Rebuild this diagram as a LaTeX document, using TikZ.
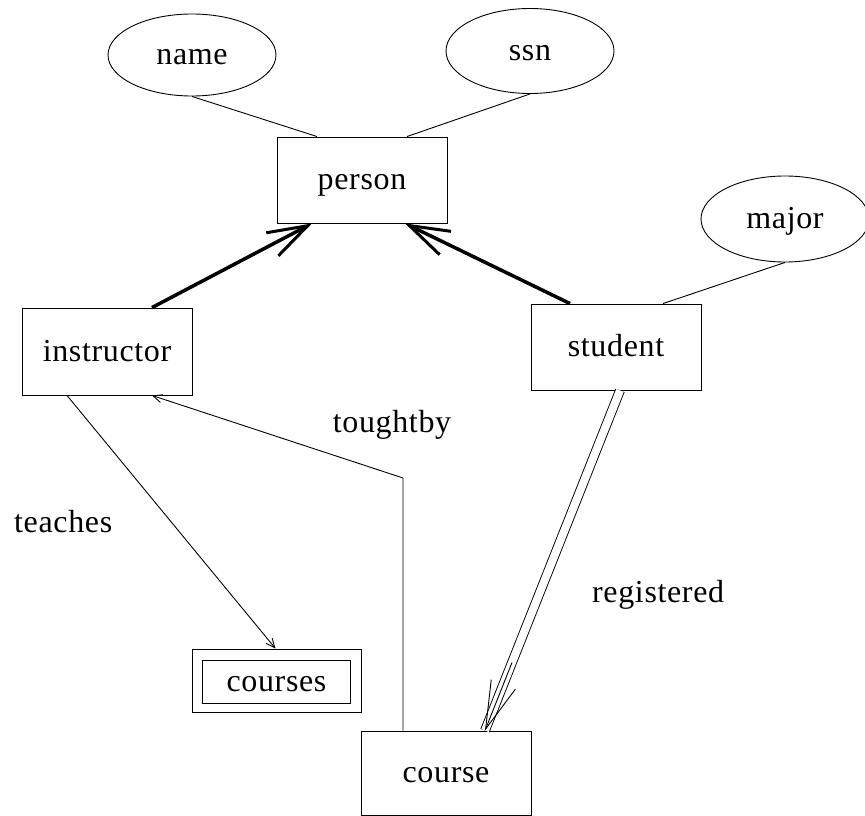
\documentclass[tikz,border=0pt]{standalone}
\usepackage{fontspec}
\setmainfont[LetterSpace=2]{Liberation Serif}
\usetikzlibrary{arrows.meta,shapes.geometric,calc}
\begin{document}
\begin{tikzpicture}[x=1pt,y=-1pt,
  font=\fontsize{32}{38}\selectfont,
  txt/.style={text height=25pt,text depth=6pt},
  entity/.style={draw,rectangle,inner sep=0pt,minimum width=170pt,minimum height=86pt,line width=0.9pt,txt},
  attr/.style={draw,ellipse,inner sep=0pt,minimum width=168pt,minimum height=82pt,line width=0.9pt,txt},
  lbl/.style={inner sep=0pt},
  thin/.style={line width=0.9pt},
  isa/.style={line width=3.5pt,-{Straight Barb[length=40pt,width=26pt,line width=3pt]}},
  rel/.style={line width=0.9pt,-{Straight Barb[length=9pt,width=8pt]}}]
\useasboundingbox (0,0) rectangle (865,816);
% entities
\node[entity] (person) at (362,180) {person};
\node[entity,minimum height=87pt] (instructor) at (107,351.5) {instructor};
\node[entity] (student) at (616,347) {student};
\node[entity,minimum height=84pt] (course) at (446,773) {course};
\node[draw,thin,rectangle,minimum width=169pt,minimum height=63pt,inner sep=0pt] (courses) at (276.5,680.5) {};
\node[draw,thin,rectangle,minimum width=148pt,minimum height=43pt,inner sep=0pt,txt] (coursesin) at (276.5,682) {courses};
% attributes
\node[attr] (name) at (192,55) {name};
\node[attr,minimum height=85pt] (ssn) at (530,51) {ssn};
\node[attr,minimum height=86pt] (major) at (785,219) {major};
% attribute links
\draw[thin] (name.south) -- ([xshift=-45pt]person.north);
\draw[thin] (ssn.south) -- ([xshift=45pt]person.north);
\draw[thin] (major.south) -- ([xshift=47pt]student.north);
% ISA arrows
\draw[isa] ([xshift=45pt]instructor.north) -- ([xshift=-50pt]person.south);
\draw[isa] ([xshift=-46pt]student.north) -- ([xshift=43pt]person.south);
% teaches
\draw[rel] ([xshift=-40pt]instructor.south) -- ([xshift=-1pt]courses.north);
% toughtby
\coordinate (tb) at (403,478);
\draw[rel] ([xshift=-43pt]course.north) -- (tb) -- ([xshift=45pt]instructor.south);
% registered (double line)
\draw[line width=0.9pt,double,double distance=8pt] ([xshift=4pt]student.south) -- ([xshift=39pt]course.north);
\draw[line width=0.9pt,-{Straight Barb[length=48pt,width=26pt]}] ($([xshift=4pt]student.south)!0.8!([xshift=39pt]course.north)$) -- ([xshift=39pt]course.north);
% labels
\node[lbl,anchor=west] (lteaches) at (14,522) {teaches};
\node[lbl] (ltoughtby) at (392,425) {toughtby};
\node[lbl,anchor=west] (lregistered) at (592,595) {registered};
\end{tikzpicture}
\end{document}
